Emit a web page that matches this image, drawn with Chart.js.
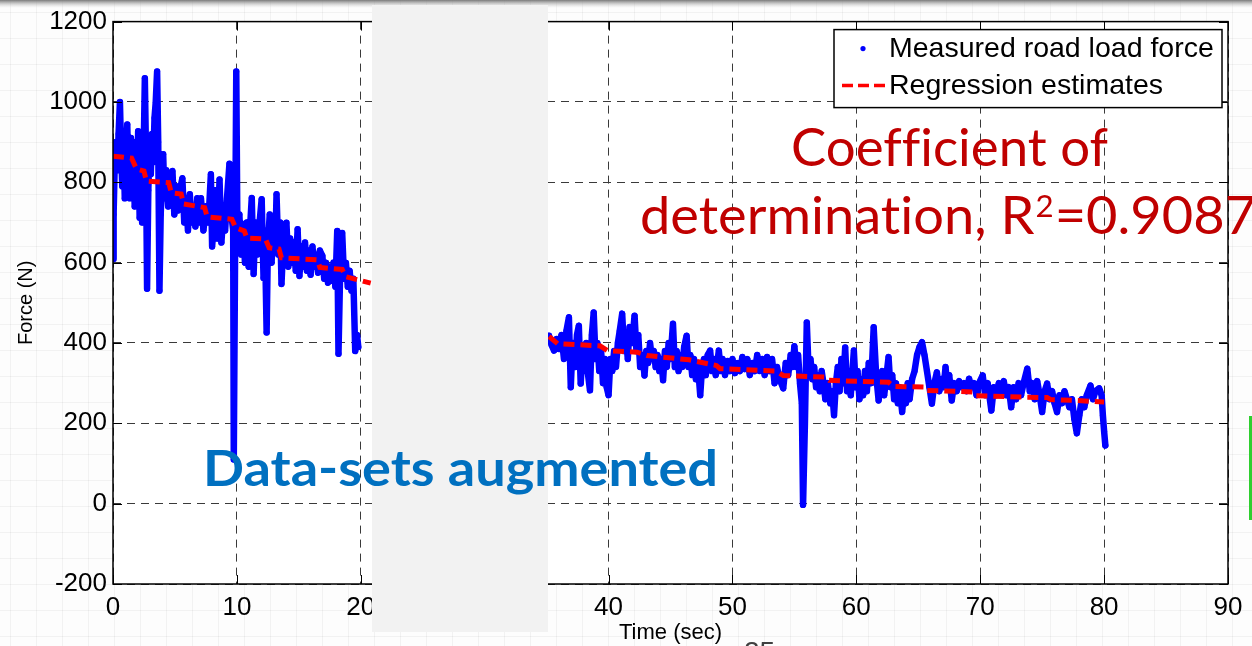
<!DOCTYPE html>
<html>
<head>
<meta charset="utf-8">
<script src="https://cdn.jsdelivr.net/npm/chart.js@4.4.0/dist/chart.umd.min.js"></script>
<style>
html, body { margin: 0; padding: 0; background: #fff; }
#wrap { position: relative; width: 1252px; height: 646px; overflow: hidden; }
</style>
</head>
<body>
<div id="wrap"><canvas id="myChart" width="1252" height="646"></canvas></div>
<script>
// axis ticks
var xTicks = [0, 10, 20, 30, 40, 50, 60, 70, 80, 90];
var yTicks = [-200, 0, 200, 400, 600, 800, 1000, 1200];

// measured road load force, first run (sec / N)
var leftTime = [0,0.05,0.15,0.25,0.35,0.45,0.56,0.65,0.75,0.85,0.95,1.05,1.15,1.25,1.35,1.45,1.55,1.65,1.75,1.85,
  1.95,2.03,2.15,2.25,2.35,2.45,2.57,2.65,2.75,2.85,2.95,3.05,3.15,3.25,3.35,3.45,3.56,3.65,3.75,3.85,
  3.95,4.05,4.15,4.3,4.45,4.6,4.8,4.95,5.1,5.25,5.4,5.6,5.75,5.9,6.05,6.2,6.35,6.5,6.65,6.8,
  6.95,7.1,7.3,7.5,7.7,7.9,8.0,8.15,8.3,8.45,8.6,8.75,8.9,9.05,9.2,9.4,9.55,9.7,9.75,9.85,
  9.95,10.05,10.2,10.35,10.5,10.65,10.8,10.95,11.05,11.2,11.35,11.5,11.65,11.8,12.0,12.15,12.25,12.4,12.5,12.65,
  12.8,12.95,13.1,13.2,13.35,13.5,13.6,13.75,13.9,14.0,14.15,14.3,14.45,14.6,14.75,14.9,15.05,15.2,15.35,15.5,
  15.65,15.8,15.95,16.1,16.25,16.4,16.55,16.7,16.9,17.05,17.2,17.35,17.5,17.65,17.8,17.95,18.1,18.2,18.35,18.5,
  18.65,18.8,18.95,19.1,19.25,19.4,19.55,19.7,19.8];
var leftForce = [609,720,860,900,830,920,1000,880,790,900,760,880,944,820,760,910,800,900,740,880,
  780,927,712,860,700,830,1059,900,535,780,880,820,920,850,960,1000,1076,900,530,720,
  800,870,760,830,740,800,828,720,790,730,780,810,700,760,680,770,700,740,690,760,
  700,760,680,740,700,820,640,700,780,660,807,650,720,680,760,846,720,680,110,600,
  1076,640,720,620,696,600,700,590,680,761,572,700,620,690,758,562,680,426,640,720,
  600,700,640,770,620,700,547,650,610,699,590,660,600,650,580,683,567,640,590,650,
  580,630,570,640,590,620,575,630,617,560,600,550,590,555,600,540,679,373,600,674,
  560,600,540,580,530,560,380,420,390];

// measured road load force, second run
var rightTime = [35.2,35.4,35.6,35.8,36.0,36.2,36.4,36.6,36.8,36.95,37.1,37.3,37.45,37.6,37.75,37.9,38.05,38.2,38.35,38.5,
  38.65,38.8,38.95,39.1,39.25,39.4,39.55,39.7,39.85,40.0,40.15,40.3,40.45,40.6,40.75,40.9,41.1,41.25,41.4,41.55,
  41.7,41.9,42.1,42.25,42.4,42.55,42.75,42.9,43.05,43.2,43.35,43.5,43.65,43.8,43.95,44.1,44.25,44.4,44.55,44.7,
  44.85,45.0,45.2,45.35,45.5,45.65,45.8,45.95,46.1,46.3,46.45,46.6,46.75,46.9,47.05,47.2,47.4,47.55,47.7,47.85,
  48.0,48.2,48.35,48.5,48.65,48.9,49.05,49.2,49.4,49.6,49.8,50.0,50.2,50.4,50.6,50.8,51.0,51.2,51.4,51.6,
  51.8,52.0,52.2,52.4,52.6,52.8,53.0,53.2,53.4,53.6,53.8,54.1,54.3,54.5,54.7,54.85,55.0,55.15,55.3,55.45,
  55.6,55.7,55.85,56.0,56.15,56.3,56.45,56.6,56.75,56.9,57.05,57.2,57.35,57.5,57.7,57.9,58.05,58.2,58.35,58.5,
  58.65,58.8,58.95,59.1,59.25,59.4,59.55,59.8,59.95,60.1,60.25,60.4,60.55,60.7,60.85,61.0,61.2,61.4,61.6,61.8,
  61.95,62.1,62.25,62.4,62.6,62.75,62.9,63.05,63.2,63.35,63.5,63.7,63.85,64.0,64.15,64.3,64.5,64.7,64.9,65.1,
  65.3,65.5,65.7,65.9,66.1,66.3,66.5,66.7,66.9,67.05,67.2,67.35,67.5,67.7,67.9,68.1,68.3,68.5,68.7,68.9,
  69.1,69.3,69.5,69.7,69.9,70.2,70.4,70.6,70.9,71.1,71.3,71.5,71.7,71.9,72.1,72.3,72.5,72.7,72.9,73.1,
  73.3,73.5,73.8,74.0,74.2,74.4,74.6,74.8,75.0,75.2,75.4,75.6,75.8,76.0,76.2,76.4,76.6,76.8,77.0,77.2,
  77.4,77.6,77.8,78.0,78.2,78.4,78.6,78.9,79.1,79.3,79.6,79.8,79.9,80.0,80.1];
var rightForce = [418,395,381,410,385,420,360,430,464,290,400,340,420,443,299,380,330,400,320,282,
  420,476,360,400,330,380,300,360,290,270,360,330,380,340,400,430,473,380,420,360,
  440,400,468,380,420,340,370,319,380,350,400,360,380,340,370,330,360,307,380,340,
  400,360,448,340,380,330,370,340,390,418,340,370,320,360,310,350,270,340,360,320,
  370,381,330,360,320,381,330,360,320,355,330,360,325,350,330,365,335,360,320,350,
  330,370,330,360,320,365,330,360,300,340,310,287,350,320,370,340,392,340,370,300,
  250,-3,200,451,330,360,310,340,290,320,280,330,300,260,300,250,280,220,300,340,
  280,360,300,389,280,330,270,381,290,330,260,310,270,330,280,350,300,439,320,257,
  300,330,270,310,365,290,320,260,300,250,290,228,280,250,300,260,310,330,370,390,
  402,370,330,290,249,300,327,280,310,290,340,290,320,257,300,280,305,290,300,280,
  311,290,300,270,300,319,270,300,232,290,270,300,280,305,270,290,240,290,260,300,
  270,300,336,280,300,260,305,270,228,280,299,260,280,250,228,270,250,280,260,240,
  260,210,175,220,260,240,270,294,260,280,287,270,220,180,145];

// regression estimates
var fitLeftTime = [0,1.5,1.9,2.5,2.7,4.5,4.7,5.5,5.7,7.4,7.6,9.6,9.9,10.6,10.8,12.3,12.6,13.4,13.6,16.5,16.7,18.5,18.8,20.8];
var fitLeftForce = [865,860,833,828,803,799,774,771,746,737,714,708,687,679,661,659,637,634,612,607,588,583,565,549];
var fitRightTime = [35.2,35.9,39.3,39.9,42.3,43.1,46.5,48.7,49.0,53.5,54.1,57.5,57.8,62.6,63.0,65.6,65.7,69.4,69.6,73.6,75.4,75.7,77.6,80.0];
var fitRightForce = [416,398,393,381,377,369,358,344,336,330,319,315,307,302,292,290,282,278,269,265,264,259,257,253];

function pts(ts, fs) {
  return ts.map(function (t, i) { return { x: t, y: fs[i] }; });
}

var measuredStyle = {
  showLine: true, borderColor: '#0000ff', backgroundColor: '#0000ff',
  borderWidth: 6.5, borderJoinStyle: 'round', borderCapStyle: 'round',
  pointRadius: 3, pointBorderWidth: 0, pointBackgroundColor: '#0000ff', order: 1
};
var fitStyle = {
  showLine: true, borderColor: '#ff0000', backgroundColor: '#ff0000',
  borderWidth: 5, borderDash: [11, 6], pointRadius: 0, order: 0
};

// zero-width non-joiner keeps the slide font from forming ligatures
var ZW = '\u200C';

// slide background, axes box, legend and overlay texts
var slidePlugin = {
  id: 'slide',
  beforeDraw: function (chart) {
    var c = chart.ctx, a = chart.chartArea, w = chart.width, h = chart.height;
    c.save();
    c.fillStyle = '#fdfdfd';
    c.fillRect(0, 0, w, h);
    c.strokeStyle = 'rgba(0,0,0,0.045)';
    c.lineWidth = 1;
    for (var gx = 10.5; gx < w; gx += 26) { c.beginPath(); c.moveTo(gx, 0); c.lineTo(gx, h); c.stroke(); }
    for (var gy = 12.5; gy < h; gy += 26) { c.beginPath(); c.moveTo(0, gy); c.lineTo(w, gy); c.stroke(); }
    var g = c.createLinearGradient(0, 0, 0, 8);
    g.addColorStop(0, '#7a7a7a');
    g.addColorStop(1, 'rgba(210,210,210,0)');
    c.fillStyle = g;
    c.fillRect(0, 0, w, 8);
    c.fillStyle = '#ffffff';
    c.fillRect(a.left, a.top, a.right - a.left, a.bottom - a.top);
    c.restore();
  },
  afterDraw: function (chart) {
    var c = chart.ctx, a = chart.chartArea;
    var xs = chart.scales.x, ys = chart.scales.y;
    c.save();
    // axes box with inward ticks
    c.strokeStyle = '#000';
    c.lineWidth = 1.5;
    c.strokeRect(a.left, a.top, a.right - a.left, a.bottom - a.top);
    c.lineWidth = 1;
    xTicks.forEach(function (v) {
      var px = Math.round(xs.getPixelForValue(v)) + 0.5;
      c.beginPath(); c.moveTo(px, a.bottom); c.lineTo(px, a.bottom - 9); c.stroke();
      c.beginPath(); c.moveTo(px, a.top); c.lineTo(px, a.top + 9); c.stroke();
    });
    yTicks.forEach(function (v) {
      var py = Math.round(ys.getPixelForValue(v)) + 0.5;
      c.beginPath(); c.moveTo(a.left, py); c.lineTo(a.left + 9, py); c.stroke();
      c.beginPath(); c.moveTo(a.right, py); c.lineTo(a.right - 9, py); c.stroke();
    });

    // legend
    var ds = chart.data.datasets;
    var lx = a.right - 394, ly = a.top + 8, lw = 388, lh = 78;
    c.fillStyle = '#fff';
    c.fillRect(lx, ly, lw, lh);
    c.strokeStyle = '#000';
    c.lineWidth = 1.5;
    c.strokeRect(lx, ly, lw, lh);
    c.fillStyle = ds[0].borderColor;
    c.beginPath(); c.arc(lx + 29, ly + 19, 2.6, 0, Math.PI * 2); c.fill();
    c.strokeStyle = ds[2].borderColor;
    c.lineWidth = 3.5;
    c.setLineDash([11, 5]);
    c.beginPath(); c.moveTo(lx + 8, ly + 56); c.lineTo(lx + 52, ly + 56); c.stroke();
    c.setLineDash([]);
    c.fillStyle = '#000';
    c.font = '28.5px "Liberation Sans", Arial, sans-serif';
    c.textBaseline = 'middle';
    c.textAlign = 'left';
    c.fillText(ds[0].label, lx + 55, ly + 20);
    c.fillText(ds[2].label, lx + 55, ly + 57);

    // grey block on the slide
    c.fillStyle = '#f2f2f2';
    c.fillRect(372, 5, 176, 627);

    // slide texts
    c.textBaseline = 'alphabetic';
    function fitText(text, x, y, width) {
      var m = c.measureText(text).width;
      c.save(); c.translate(x, y); c.scale(width / m, 1); c.fillText(text, 0, 0); c.restore();
    }
    c.fillStyle = '#c00000';
    c.font = '52px Lato, "Open Sans", sans-serif';
    fitText('Coef' + ZW + 'f' + ZW + 'icient of', 791, 166, 317);

    var p1 = 'determinat' + ZW + 'ion, R', p2 = '2', p3 = '=0.9087';
    c.font = '52px Lato, "Open Sans", sans-serif';
    var w1 = c.measureText(p1).width, w3 = c.measureText(p3).width;
    c.font = '30px Lato, "Open Sans", sans-serif';
    var w2 = c.measureText(p2).width;
    var s = 614 / (w1 + w2 + w3);
    c.save();
    c.translate(640, 234);
    c.scale(s, 1);
    c.font = '52px Lato, "Open Sans", sans-serif';
    c.fillText(p1, 0, 0);
    c.font = '30px Lato, "Open Sans", sans-serif';
    c.fillText(p2, w1 + 1, -17);
    c.font = '52px Lato, "Open Sans", sans-serif';
    c.fillText(p3, w1 + w2 + 2, 0);
    c.restore();

    c.fillStyle = '#0070c0';
    c.font = 'bold 50px Lato, "Open Sans", sans-serif';
    fitText('Data-sets augmented', 203, 486, 515);

    c.fillStyle = '#404040';
    c.font = '28px "Liberation Sans", Arial, sans-serif';
    c.fillText('25', 744, 661);

    c.fillStyle = '#2fcf2f';
    c.fillRect(1249, 416, 3, 104);
    c.restore();
  }
};

Chart.defaults.font.family = '"Liberation Sans", Arial, sans-serif';

var ctx = document.getElementById('myChart').getContext('2d');
var chart = new Chart(ctx, {
  type: 'scatter',
  data: {
    datasets: [
      Object.assign({ label: 'Measured road load force', data: pts(leftTime, leftForce) }, measuredStyle),
      Object.assign({ label: 'Measured road load force', data: pts(rightTime, rightForce) }, measuredStyle),
      Object.assign({ label: 'Regression estimates', data: pts(fitLeftTime, fitLeftForce) }, fitStyle),
      Object.assign({ label: 'Regression estimates', data: pts(fitRightTime, fitRightForce) }, fitStyle)
    ]
  },
  options: {
    responsive: false,
    animation: false,
    layout: { padding: { top: 20, right: 24, left: 0, bottom: 0 } },
    plugins: { legend: { display: false }, tooltip: { enabled: false } },
    scales: {
      x: {
        type: 'linear', min: 0, max: 90,
        afterBuildTicks: function (s) { s.ticks = xTicks.map(function (v) { return { value: v }; }); },
        afterFit: function (s) { s.height = 62; },
        grid: { color: '#3a3a3a', lineWidth: 1, drawTicks: false },
        border: { display: false, dash: [8, 6] },
        ticks: { color: '#000', font: { size: 26 }, padding: 8, maxRotation: 0, autoSkip: false,
          callback: function (v) { return String(v); } },
        title: { display: true, text: 'Time (sec)', color: '#000', font: { size: 22 }, padding: { top: 0, bottom: 0 } }
      },
      y: {
        type: 'linear', min: -200, max: 1200,
        afterBuildTicks: function (s) { s.ticks = yTicks.map(function (v) { return { value: v }; }); },
        afterFit: function (s) { s.width = 113; },
        grid: { color: '#3a3a3a', lineWidth: 1, drawTicks: false },
        border: { display: false, dash: [8, 6] },
        ticks: { color: '#000', font: { size: 26 }, padding: 6, autoSkip: false,
          callback: function (v) { return String(v); } },
        title: { display: true, text: 'Force (N)', color: '#000', font: { size: 20 }, padding: { top: 14, bottom: 0 } }
      }
    }
  },
  plugins: [slidePlugin]
});
</script>
</body>
</html>
